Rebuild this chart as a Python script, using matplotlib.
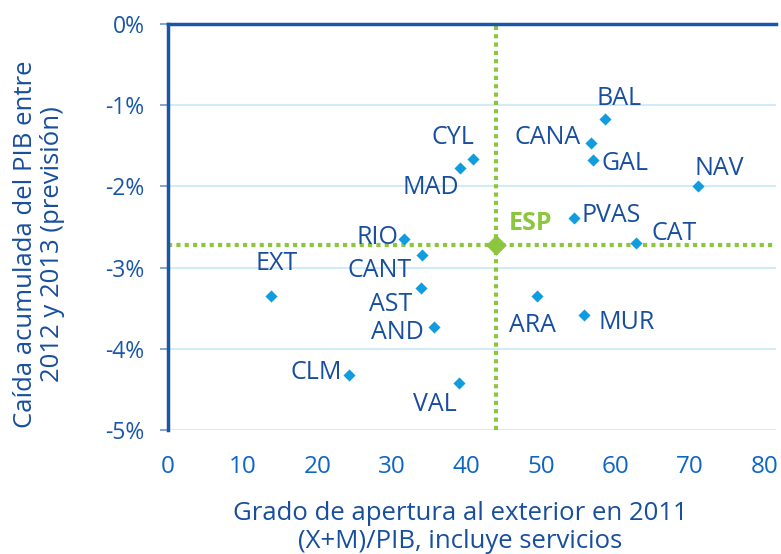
import matplotlib
matplotlib.use("Agg")
import matplotlib.pyplot as plt

# Regions: openness (X+M)/GDP 2011 vs cumulative GDP fall 2012-2013 (%)
regiones = ["BAL", "CANA", "GAL", "CYL", "MAD", "NAV", "PVAS", "CAT", "RIO",
            "CANT", "EXT", "AST", "AND", "ARA", "MUR", "CLM", "VAL"]
apertura = [58.6, 56.7, 57.0, 40.9, 39.1, 71.1, 54.4, 62.7, 31.7,
            34.0, 13.8, 33.9, 35.6, 49.5, 55.7, 24.3, 39.0]
caida = [-1.17, -1.46, -1.67, -1.66, -1.77, -2.00, -2.39, -2.70, -2.65,
         -2.85, -3.35, -3.25, -3.73, -3.35, -3.58, -4.32, -4.42]

esp_apertura = 44.0
esp_caida = -2.72

xticks = [0, 10, 20, 30, 40, 50, 60, 70, 80]
yticks = [0, -1, -2, -3, -4, -5]
ytick_labels = ["0%", "-1%", "-2%", "-3%", "-4%", "-5%"]

# label offsets (pixels) relative to each point
offsets = {
    "BAL": (14, 20), "CANA": (-43, 5), "GAL": (32, -4), "CYL": (-20, 21),
    "MAD": (-29, -20), "NAV": (21, 18), "PVAS": (37, 3), "CAT": (38, 10),
    "RIO": (-27, 2), "CANT": (-42, -15), "EXT": (6, 33), "AST": (-30, -17),
    "AND": (-36, -6), "ARA": (-5, -29), "MUR": (43, -8), "CLM": (-33, 2),
    "VAL": (-24, -22),
}

dark = "#174e9e"
spine = "#1756a9"
xtickc = "#0e66c4"
light = "#0f9de0"
green = "#8cc63f"
grid = "#cdeaf8"

plt.rcParams["font.family"] = ["Open Sans", "DejaVu Sans"]

fig = plt.figure(figsize=(7.81, 5.54), dpi=100)
ax = fig.add_axes([0.2151, 0.2238, 0.7785, 0.7329])

ax.set_xlim(0, 81.5)
ax.set_ylim(-5, 0)

for y in yticks[1:]:
    ax.axhline(y, color=grid, lw=1.3, zorder=0)

ax.axhline(esp_caida, color=green, lw=3, ls=(0, (1, 1)), zorder=1)
ax.axvline(esp_apertura, color=green, lw=3, ls=(0, (1, 1)), zorder=1)

ax.scatter(apertura, caida, marker="D", s=38, color=light, zorder=3, linewidths=0)
ax.scatter([esp_apertura], [esp_caida], marker="D", s=110, color=green, zorder=4, linewidths=0)

for name, x, y in zip(regiones, apertura, caida):
    dx, dy = offsets[name]
    ax.annotate(name, (x, y), xytext=(dx, dy), textcoords="offset pixels",
                ha="center", va="center", fontsize=18, color=dark, zorder=5)
ax.annotate("ESP", (esp_apertura, esp_caida), xytext=(34, 21), textcoords="offset pixels",
            ha="center", va="center", fontsize=18, color=green, fontweight="bold", zorder=5)

for s in ["right", "bottom"]:
    ax.spines[s].set_visible(False)
for s in ["left", "top"]:
    ax.spines[s].set_color(spine)
    ax.spines[s].set_linewidth(2.5)

ax.set_xticks(xticks)
ax.set_yticks(yticks)
ax.set_yticklabels(ytick_labels)
ax.tick_params(axis="x", length=0, pad=18, labelsize=17.5, labelcolor=xtickc)
ax.tick_params(axis="y", length=6, width=1.2, color="#6f95c8", pad=11,
               labelsize=16.5, labelcolor=spine)

ax.set_xlabel("Grado de apertura al exterior en 2011\n(X+M)/PIB, incluye servicios",
              fontsize=18.5, color=dark, linespacing=1.15)
ax.xaxis.set_label_coords(0.48, -0.175)
fig.text(0.05, 0.56, "Caída acumulada del PIB entre\n2012 y 2013 (previsión)",
         rotation=90, ha="center", va="center", fontsize=18.5, color=dark,
         linespacing=1.15)

fig.savefig("out.png", dpi=100)
